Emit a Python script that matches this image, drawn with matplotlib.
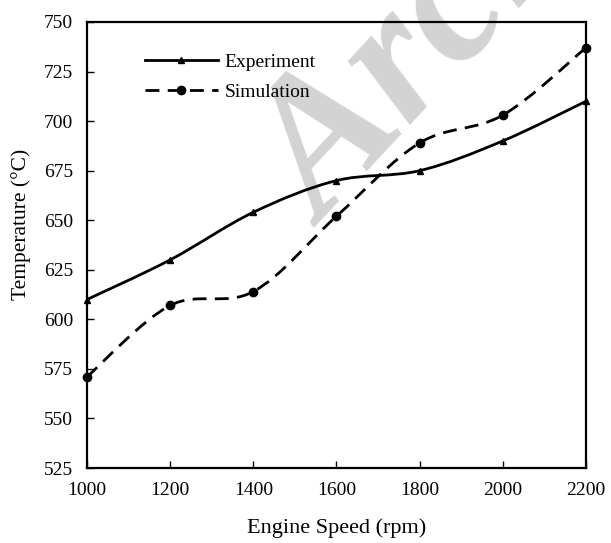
import matplotlib.pyplot as plt
import numpy
from matplotlib.path import Path
from matplotlib.patches import PathPatch
from matplotlib.lines import Line2D

speed = [1000, 1200, 1400, 1600, 1800, 2000, 2200]
experiment = [610, 630, 654, 670, 675, 690, 710]
simulation = [571, 607, 614, 652, 689, 703, 737]


def smooth_path(x, y, tension=0.5):
    # catmull-rom segments drawn as cubic bezier curves through the points
    x = numpy.asarray(x, float)
    y = numpy.asarray(y, float)
    verts = [(x[0], y[0])]
    codes = [Path.MOVETO]
    n = len(x)
    for i in range(n - 1):
        i0 = max(i - 1, 0)
        i3 = min(i + 2, n - 1)
        c1 = (x[i] + (x[i + 1] - x[i0]) * tension / 3, y[i] + (y[i + 1] - y[i0]) * tension / 3)
        c2 = (x[i + 1] - (x[i3] - x[i]) * tension / 3, y[i + 1] - (y[i3] - y[i]) * tension / 3)
        verts += [c1, c2, (x[i + 1], y[i + 1])]
        codes += [Path.CURVE4] * 3
    return Path(verts, codes)


plt.rcParams['font.family'] = ['Liberation Serif', 'DejaVu Serif']
fig = plt.figure(figsize=(6.11, 5.43), dpi=100)
ax = fig.add_axes([0.1424, 0.1381, 0.8166, 0.8214])

# faint watermark behind the plot
fig.text(0.37, 0.605, "Archive", fontsize=138, fontstyle='italic', fontweight='bold',
         color='#d3d3d3', rotation=47, ha='left', va='baseline', zorder=-5)
ax.set_facecolor('none')

ax.add_patch(PathPatch(smooth_path(speed, experiment), fill=False, lw=2.0, color='black'))
ax.add_patch(PathPatch(smooth_path(speed, simulation), fill=False, lw=2.0, color='black',
                       linestyle=(0, (5, 3))))
ax.plot(speed, experiment, linestyle='none', marker='^', ms=5, color='black', clip_on=False)
ax.plot(speed, simulation, linestyle='none', marker='o', ms=6, color='black', clip_on=False)

ax.set_xlim(1000, 2200)
ax.set_ylim(525, 750)
ax.set_xticks(speed)
ax.set_yticks(numpy.arange(525, 751, 25))
ax.tick_params(direction='in', length=5, width=1, labelsize=14, pad=10)
for s in ax.spines.values():
    s.set_linewidth(1.6)

ax.set_xlabel("Engine Speed (rpm)", fontsize=16)
ax.xaxis.set_label_coords(0.5, -0.112)
ax.set_ylabel("Temperature (\u00b0C)", fontsize=15.5)
ax.yaxis.set_label_coords(-0.112, 0.547)

handles = [Line2D([], [], color='black', lw=2.0, marker='^', ms=5),
           Line2D([], [], color='black', lw=2.0, marker='o', ms=6, linestyle=(0, (5, 3)))]
ax.legend(handles, ["Experiment", "Simulation"], loc='upper left', bbox_to_anchor=(0.116, 0.93),
          borderpad=0, borderaxespad=0, frameon=False, fontsize=14,
          handlelength=3.75, handletextpad=0.36, labelspacing=0.65)

plt.savefig("out.png", dpi=100)
plt.close()
